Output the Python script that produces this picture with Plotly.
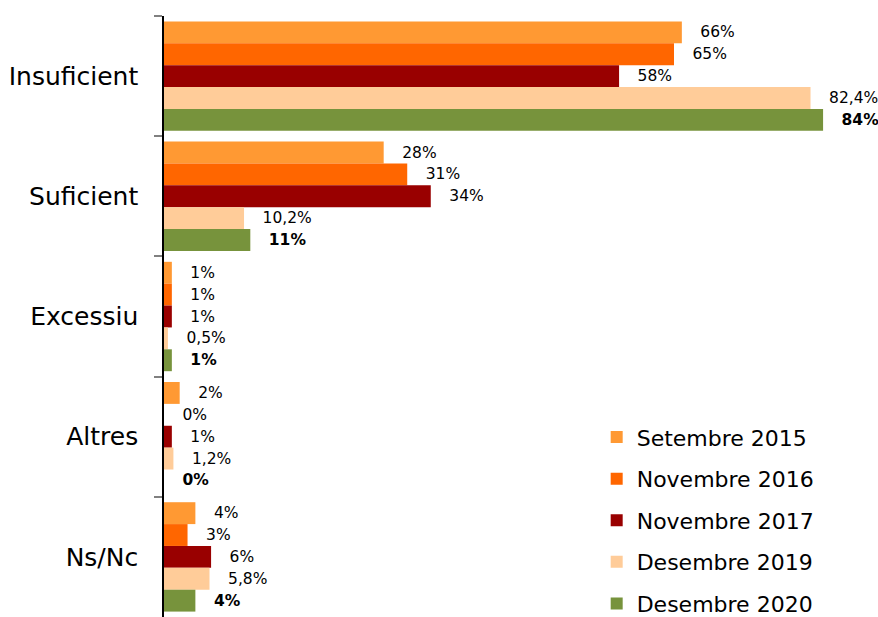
import plotly.graph_objects as go

# Survey answers per category (percent), one list per survey wave
categories = ["Insuficient", "Suficient", "Excessiu", "Altres", "Ns/Nc"]
series_names = ["Setembre 2015", "Novembre 2016", "Novembre 2017",
                "Desembre 2019", "Desembre 2020"]
set_2015 = [66, 28, 1, 2, 4]
nov_2016 = [65, 31, 1, 0, 3]
nov_2017 = [58, 34, 1, 1, 6]
des_2019 = [82.4, 10.2, 0.5, 1.2, 5.8]
des_2020 = [84, 11, 1, 0, 4]

series_values = [set_2015, nov_2016, nov_2017, des_2019, des_2020]
colors = ["#FF9933", "#FF6600", "#990000", "#FFCC99", "#77933C"]
FONT = "DejaVu Sans"
PAD = "\u2002\u2002"


def fmt(v):
    s = f"{v:g}".replace(".", ",")
    return f"{s}%"


fig = go.Figure()
for i, (name, vals, col) in enumerate(zip(series_names, series_values, colors)):
    bold = i == len(series_names) - 1
    labels = [PAD + (f"<b>{fmt(v)}</b>" if bold else fmt(v)) for v in vals]
    fig.add_trace(go.Bar(
        y=categories, x=vals, name=name, orientation="h",
        marker=dict(color=col, line=dict(width=0)),
        text=labels, textposition="outside", constraintext="none",
        textfont=dict(family=FONT, size=15.5, color="#000000"),
        cliponaxis=False, legendgroup=name,
    ))

fig.update_layout(
    width=878, height=617,
    margin=dict(l=164, r=0, t=16, b=0, autoexpand=False),
    paper_bgcolor="white", plot_bgcolor="white",
    barmode="group", bargap=0.09, bargroupgap=0,
    font=dict(family=FONT, color="#000000"),
    showlegend=True,
    legend=dict(x=0.606, y=0.334, xanchor="left", yanchor="top",
                font=dict(family=FONT, size=22, color="#000000"),
                tracegroupgap=10, bgcolor="rgba(0,0,0,0)"),
    xaxis=dict(range=[0, 91], visible=False, showgrid=False, zeroline=False,
               automargin=False),
    yaxis=dict(autorange="reversed", categoryorder="array", categoryarray=categories,
               showline=True, linecolor="#000000", linewidth=1.5,
               ticks="outside", tickson="boundaries", ticklen=8, tickcolor="#808080",
               tickwidth=1.5, showgrid=False, zeroline=False, automargin=False,
               tickfont=dict(family=FONT, size=25, color="#000000"),
               ticklabelstandoff=19),
)

fig.write_html("out.html")
